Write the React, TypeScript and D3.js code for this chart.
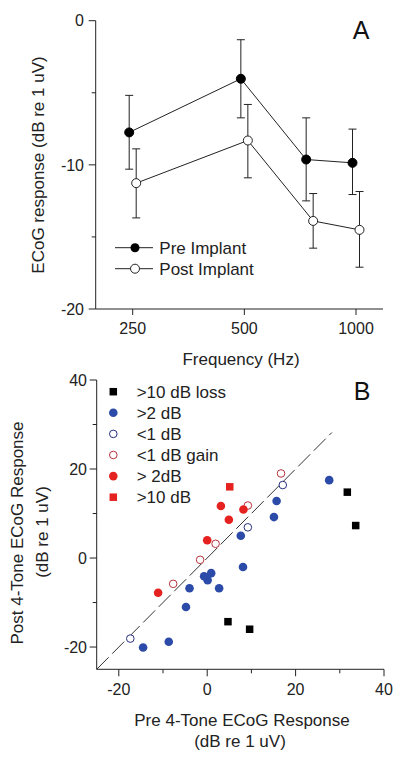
import React from "react";
import * as d3 from "d3";

// Panel A data
const freqs = [250, 500, 750, 1000];
const preMean = [-7.75, -4.03, -9.63, -9.86];
const preHi = [-5.18, -1.32, -6.74, -7.52];
const preLo = [-10.3, -6.74, -12.5, -12.06];
const postMean = [-11.27, -8.31, -13.89, -14.51];
const postHi = [-8.89, -5.81, -11.99, -11.85];
const postLo = [-13.68, -10.9, -15.78, -17.1];
const freqTicks = [250, 500, 1000];
const aYTicks = [0, -10, -20];
const aYMinor = [-5, -15];

// Panel B data
const lossSq = [[31.7, 14.8], [33.6, 7.3], [4.7, -14.3], [9.6, -16.0]];
const blueFilled = [[27.6, 17.5], [15.7, 12.8], [15.1, 9.2], [7.6, 5.0], [8.1, -2.0], [-0.7, -4.1], [0.1, -5.0], [0.9, -3.4], [2.7, -6.8], [-4.0, -6.8], [-4.8, -11.0], [-8.7, -18.8], [-14.5, -20.1]];
const blueOpen = [[17.1, 16.4], [9.2, 6.9], [-17.4, -18.1]];
const redOpen = [[16.7, 19.0], [9.2, 11.8], [1.9, 3.2], [-1.6, -0.4], [-7.7, -5.8]];
const redFilled = [[3.1, 11.7], [8.2, 10.9], [4.9, 8.6], [0, 4.0], [-11.1, -7.8]];
const redSq = [[5.1, 16.0]];
const bTicks = [-20, 0, 20, 40];
const bMinor = [-10, 10, 30];
const legendLabels = [">10 dB loss", ">2 dB", "<1 dB", "<1 dB gain", "> 2dB", ">10 dB"];

const FONT = "Arial, 'Liberation Sans', sans-serif";
const BLUE = "#2C4BA8";
const NAVY = "#28307E";
const RED = "#E5221F";
const DRED = "#B8343C";

export default function App() {
  // Panel A scales
  const ax = d3.scaleLog().base(2).domain([250, 1000]).range([132.7, 356]);
  const ay = d3.scaleLinear().domain([-20, 0]).range([309, 20.7]);
  const aLeft = 95.7, aRight = 383;
  const off = 3.5;
  const line = d3.line<number>().x((d, i) => ax(freqs[i])).y((d) => ay(d));
  const preLine = d3.line<number>().x((d, i) => ax(freqs[i]) - off).y((d) => ay(d));
  const postLine = d3.line<number>().x((d, i) => ax(freqs[i]) + off).y((d) => ay(d));

  // Panel B scales
  const bx = d3.scaleLinear().domain([-25, 40]).range([96.7, 384]);
  const by = d3.scaleLinear().domain([-25, 40]).range([669.3, 380]);

  const errBars = (means: number[], hi: number[], lo: number[], dx: number, key: string) =>
    means.map((m, i) => {
      const x = ax(freqs[i]) + dx;
      return (
        <g key={key + i} stroke="#222" strokeWidth={1}>
          <line x1={x} x2={x} y1={ay(hi[i])} y2={ay(lo[i])} />
          <line x1={x - 4} x2={x + 4} y1={ay(hi[i])} y2={ay(hi[i])} />
          <line x1={x - 4} x2={x + 4} y1={ay(lo[i])} y2={ay(lo[i])} />
        </g>
      );
    });

  const sq = 7.5;
  return (
    <svg width={400} height={758} style={{ position: "absolute", left: 0, top: 0, background: "#fff" }} fontFamily={FONT}>
      {/* Panel A */}
      <g>
        <line x1={aLeft} x2={aLeft} y1={ay(0)} y2={ay(-20)} stroke="#222" />
        <line x1={aLeft} x2={aRight} y1={ay(-20)} y2={ay(-20)} stroke="#222" />
        {aYTicks.map((t) => (
          <g key={"ayt" + t}>
            <line x1={aLeft - 7} x2={aLeft} y1={ay(t)} y2={ay(t)} stroke="#222" />
            <text x={84} y={ay(t)} dy="0.36em" textAnchor="end" fontSize={16} fill="#222">{t}</text>
          </g>
        ))}
        {aYMinor.map((t) => (
          <line key={"aym" + t} x1={aLeft - 4} x2={aLeft} y1={ay(t)} y2={ay(t)} stroke="#222" />
        ))}
        {freqTicks.map((f) => (
          <g key={"axt" + f}>
            <line x1={ax(f)} x2={ax(f)} y1={ay(-20)} y2={ay(-20) + 6} stroke="#222" />
            <text x={ax(f)} y={ay(-20) + 25} textAnchor="middle" fontSize={16} fill="#222">{f}</text>
          </g>
        ))}
        <text x={241} y={365} textAnchor="middle" fontSize={17} fill="#222">Frequency (Hz)</text>
        <text transform={`translate(44,165) rotate(-90)`} textAnchor="middle" fontSize={17} fill="#222">ECoG response (dB re 1 uV)</text>
        <text x={361} y={39} textAnchor="middle" fontSize={25} fill="#111">A</text>

        {errBars(preMean, preHi, preLo, -off, "pe")}
        {errBars(postMean, postHi, postLo, off, "po")}
        <path d={preLine(preMean) || ""} fill="none" stroke="#222" strokeWidth={1} />
        <path d={postLine(postMean) || ""} fill="none" stroke="#222" strokeWidth={1} />
        {preMean.map((m, i) => (
          <circle key={"pm" + i} cx={ax(freqs[i]) - off} cy={ay(m)} r={4.5} fill="#000" stroke="#000" />
        ))}
        {postMean.map((m, i) => (
          <circle key={"pom" + i} cx={ax(freqs[i]) + off} cy={ay(m)} r={4.5} fill="#fff" stroke="#222" />
        ))}
        {/* legend A */}
        <line x1={115} x2={153} y1={247.7} y2={247.7} stroke="#222" />
        <circle cx={135} cy={247.7} r={4.5} fill="#000" />
        <text x={159.3} y={247.7} dy="0.36em" fontSize={17} fill="#222">Pre Implant</text>
        <line x1={115} x2={153} y1={268.7} y2={268.7} stroke="#222" />
        <circle cx={135} cy={268.7} r={4.5} fill="#fff" stroke="#222" />
        <text x={159.3} y={268.7} dy="0.36em" fontSize={17} fill="#222">Post Implant</text>
      </g>

      {/* Panel B */}
      <g>
        <line x1={bx(-25)} x2={bx(-25)} y1={by(40)} y2={by(-25)} stroke="#222" />
        <line x1={bx(-25)} x2={bx(40)} y1={by(-25)} y2={by(-25)} stroke="#222" />
        {bTicks.map((t) => (
          <g key={"byt" + t}>
            <line x1={bx(-25) - 7} x2={bx(-25)} y1={by(t)} y2={by(t)} stroke="#222" />
            <text x={87} y={by(t)} dy="0.36em" textAnchor="end" fontSize={16} fill="#222">{t}</text>
            <line x1={bx(t)} x2={bx(t)} y1={by(-25)} y2={by(-25) + 7} stroke="#222" />
            <text x={bx(t)} y={by(-25) + 26} textAnchor="middle" fontSize={16} fill="#222">{t}</text>
          </g>
        ))}
        {bMinor.map((t) => (
          <g key={"bm" + t}>
            <line x1={bx(-25) - 4} x2={bx(-25)} y1={by(t)} y2={by(t)} stroke="#222" />
            <line x1={bx(t)} x2={bx(t)} y1={by(-25)} y2={by(-25) + 4} stroke="#222" />
          </g>
        ))}
        <text x={242} y={726} textAnchor="middle" fontSize={17} fill="#222">Pre 4-Tone ECoG Response</text>
        <text x={240} y={747} textAnchor="middle" fontSize={17} fill="#222">(dB re 1 uV)</text>
        <text transform={`translate(23,533) rotate(-90)`} textAnchor="middle" fontSize={17} fill="#222">Post 4-Tone ECoG Response</text>
        <text transform={`translate(48,532) rotate(-90)`} textAnchor="middle" fontSize={17} fill="#222">(dB re 1 uV)</text>
        <text x={362} y={400} textAnchor="middle" fontSize={25} fill="#111">B</text>

        <line x1={bx(-25)} y1={by(-25)} x2={bx(28.2)} y2={by(28.2)} stroke="#333" strokeWidth={1} strokeDasharray="17,5" />

        {lossSq.map((d, i) => (
          <rect key={"ls" + i} x={bx(d[0]) - sq / 2} y={by(d[1]) - sq / 2} width={sq} height={sq} fill="#000" />
        ))}
        {blueFilled.map((d, i) => (
          <circle key={"bf" + i} cx={bx(d[0])} cy={by(d[1])} r={4.3} fill={BLUE} />
        ))}
        {blueOpen.map((d, i) => (
          <circle key={"bo" + i} cx={bx(d[0])} cy={by(d[1])} r={3.8} fill="#fff" stroke={NAVY} strokeWidth={1} />
        ))}
        {redOpen.map((d, i) => (
          <circle key={"ro" + i} cx={bx(d[0])} cy={by(d[1])} r={3.8} fill="#fff" stroke={DRED} strokeWidth={1} />
        ))}
        {redFilled.map((d, i) => (
          <circle key={"rf" + i} cx={bx(d[0])} cy={by(d[1])} r={4.3} fill={RED} />
        ))}
        {redSq.map((d, i) => (
          <rect key={"rs" + i} x={bx(d[0]) - sq / 2} y={by(d[1]) - sq / 2} width={sq} height={sq} fill={RED} />
        ))}

        {/* legend B */}
        {legendLabels.map((lab, i) => {
          const y = 391.7 + i * 21.1;
          const x = 113.3;
          let mark;
          if (i === 0) mark = <rect x={x - sq / 2} y={y - sq / 2} width={sq} height={sq} fill="#000" />;
          else if (i === 1) mark = <circle cx={x} cy={y} r={4.3} fill={BLUE} />;
          else if (i === 2) mark = <circle cx={x} cy={y} r={3.8} fill="#fff" stroke={NAVY} />;
          else if (i === 3) mark = <circle cx={x} cy={y} r={3.8} fill="#fff" stroke={DRED} />;
          else if (i === 4) mark = <circle cx={x} cy={y} r={4.3} fill={RED} />;
          else mark = <rect x={x - sq / 2} y={y - sq / 2} width={sq} height={sq} fill={RED} />;
          return (
            <g key={"lg" + i}>
              {mark}
              <text x={136.7} y={y} dy="0.36em" fontSize={17} fill="#222">{lab}</text>
            </g>
          );
        })}
      </g>
    </svg>
  );
}
